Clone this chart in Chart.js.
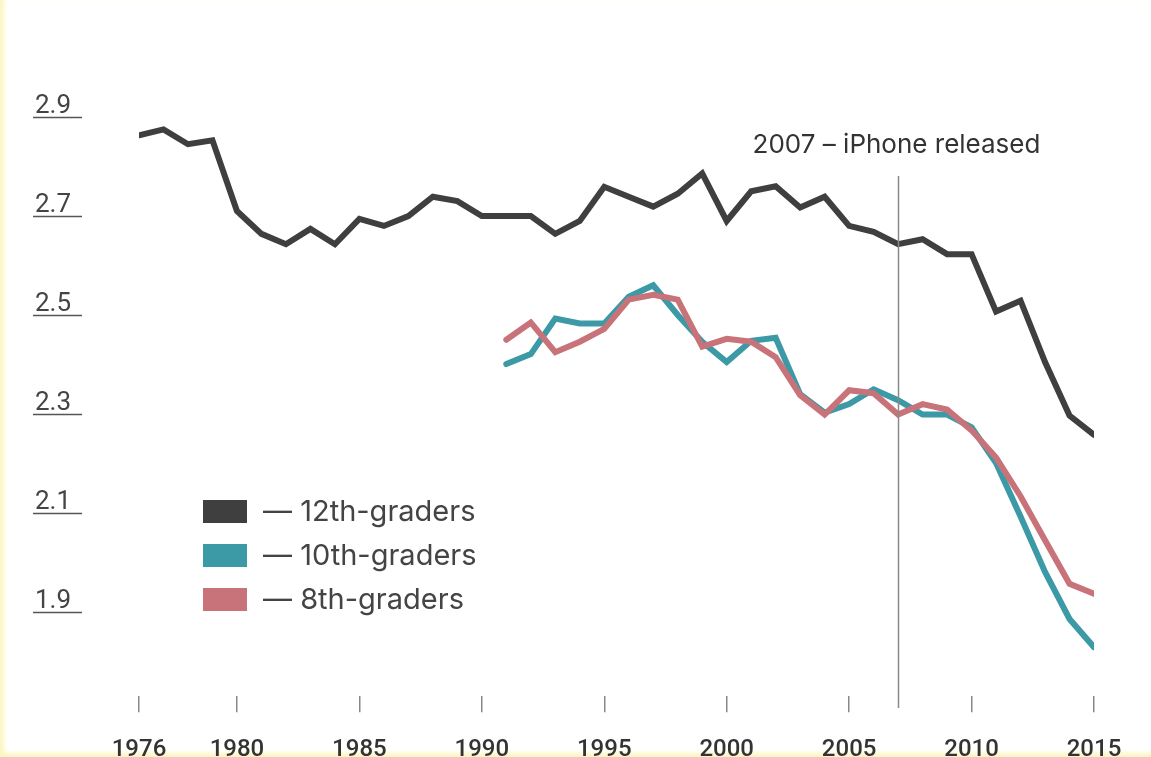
<!DOCTYPE html>
<html>
<head>
<meta charset="utf-8">
<script src="https://cdn.jsdelivr.net/npm/chart.js@4.4.1/dist/chart.umd.min.js"></script>
<style>
  html, body { margin: 0; padding: 0; background: #fff; }
  .wrap {
    position: relative;
    width: 1151px;
    height: 757px;
    background: #fff;
    box-shadow: inset 6px 0 4px -2px #fbf6c0, inset 0 -7px 4px -3px #fbf6c0;
  }
  canvas { position: absolute; left: 0; top: 0; }
</style>
</head>
<body>
<div class="wrap">
  <canvas id="chart" width="1151" height="757"></canvas>
</div>
<script>
// data
const years = [];
for (let y = 1976; y <= 2015; y++) years.push(y);

const grade12 = [2.863, 2.875, 2.845, 2.853, 2.71, 2.664, 2.643, 2.674, 2.643, 2.694,
                 2.68, 2.70, 2.739, 2.73, 2.70, 2.70, 2.70, 2.664, 2.69, 2.759,
                 2.739, 2.719, 2.745, 2.786, 2.69, 2.75, 2.76, 2.717, 2.739, 2.68,
                 2.668, 2.643, 2.653, 2.623, 2.623, 2.507, 2.529, 2.405, 2.297, 2.258];

// 10th and 8th graders start in 1991
const grade10 = [null, null, null, null, null, null, null, null, null, null,
                 null, null, null, null, null, 2.401, 2.421, 2.493, 2.483, 2.483,
                 2.537, 2.56, 2.50, 2.446, 2.405, 2.448, 2.454, 2.34, 2.303, 2.32,
                 2.35, 2.328, 2.299, 2.299, 2.273, 2.201, 2.093, 1.981, 1.886, 1.829];

const grade8 = [null, null, null, null, null, null, null, null, null, null,
                null, null, null, null, null, 2.45, 2.485, 2.425, 2.446, 2.472,
                2.531, 2.541, 2.531, 2.436, 2.452, 2.446, 2.415, 2.338, 2.299, 2.348,
                2.342, 2.299, 2.32, 2.309, 2.267, 2.212, 2.134, 2.045, 1.957, 1.937];

const xTicks = [1976, 1980, 1985, 1990, 1995, 2000, 2005, 2010, 2015];
const yTicks = [1.9, 2.1, 2.3, 2.5, 2.7, 2.9];
const seriesNames = ['12th-graders', '10th-graders', '8th-graders'];
const markYear = 2007;
const markText = '2007 \u2013 iPhone released';

const colors = ['#3f3f3f', '#3c99a6', '#c8737a'];
const FONT = 'Inter, Roboto, "Liberation Sans", sans-serif';
const TICKFONT = 'Roboto, "Liberation Sans", sans-serif';

const pts = (arr) => years.map((yr, i) => ({ x: yr, y: arr[i] }));

// y labels with underline, 2007 marker, legend
const extras = {
  id: 'extras',
  afterDraw(chart) {
    const ctx = chart.ctx;
    const ys = chart.scales.y;
    const xs = chart.scales.x;
    ctx.save();

    // y tick labels, underlined
    ctx.font = '26px ' + TICKFONT;
    ctx.fillStyle = '#444';
    ctx.strokeStyle = '#555';
    ctx.lineWidth = 1.5;
    ctx.textAlign = 'left';
    ctx.textBaseline = 'alphabetic';
    yTicks.forEach(v => {
      const py = Math.round(ys.getPixelForValue(v));
      ctx.fillText(v.toFixed(1), 35, py - 4);
      ctx.beginPath();
      ctx.moveTo(33, py + 0.5);
      ctx.lineTo(82, py + 0.5);
      ctx.stroke();
    });

    // 2007 marker
    const mx = Math.round(xs.getPixelForValue(markYear)) + 0.5;
    ctx.strokeStyle = '#8a8a8a';
    ctx.lineWidth = 1.5;
    ctx.beginPath();
    ctx.moveTo(mx, 176);
    ctx.lineTo(mx, 708);
    ctx.stroke();
    ctx.font = '26px ' + FONT;
    ctx.fillStyle = '#333';
    ctx.textAlign = 'center';
    ctx.textBaseline = 'middle';
    ctx.fillText(markText, mx - 2, 145);

    // legend
    ctx.textAlign = 'left';
    ctx.font = '29px ' + FONT;
    chart.data.datasets.forEach((ds, i) => {
      const top = 500 + i * 44;
      ctx.fillStyle = ds.borderColor;
      ctx.fillRect(203, top, 44, 23);
      ctx.fillStyle = '#444';
      ctx.fillText('\u2014 ' + ds.label, 263, top + 12);
    });
    ctx.restore();
  }
};

new Chart(document.getElementById('chart'), {
  type: 'line',
  data: {
    datasets: [
      { label: seriesNames[0], data: pts(grade12), borderColor: colors[0], order: 2 },
      { label: seriesNames[1], data: pts(grade10), borderColor: colors[1], order: 1 },
      { label: seriesNames[2], data: pts(grade8), borderColor: colors[2], order: 0 },
    ]
  },
  options: {
    responsive: false,
    animation: false,
    events: [],
    layout: { padding: { top: 117, left: 139, right: 57, bottom: -30 } },
    elements: {
      line: { borderWidth: 6, tension: 0, borderJoinStyle: 'miter', borderCapStyle: 'round' },
      point: { radius: 0 }
    },
    plugins: { legend: { display: false }, tooltip: { enabled: false } },
    scales: {
      x: {
        type: 'linear',
        min: 1976,
        max: 2015,
        afterBuildTicks: (s) => { s.ticks = xTicks.map(v => ({ value: v })); },
        grid: { drawOnChartArea: false, drawTicks: true, tickLength: 16, color: '#888', lineWidth: 1.5 },
        border: { display: false },
        ticks: {
          padding: 23,
          color: '#333',
          maxRotation: 0,
          autoSkip: false,
          font: { family: TICKFONT, size: 24, weight: '500' },
          callback: (v) => String(v)
        }
      },
      y: {
        display: false,
        min: 1.73,
        max: 2.9
      }
    }
  },
  plugins: [extras]
});
</script>
</body>
</html>
